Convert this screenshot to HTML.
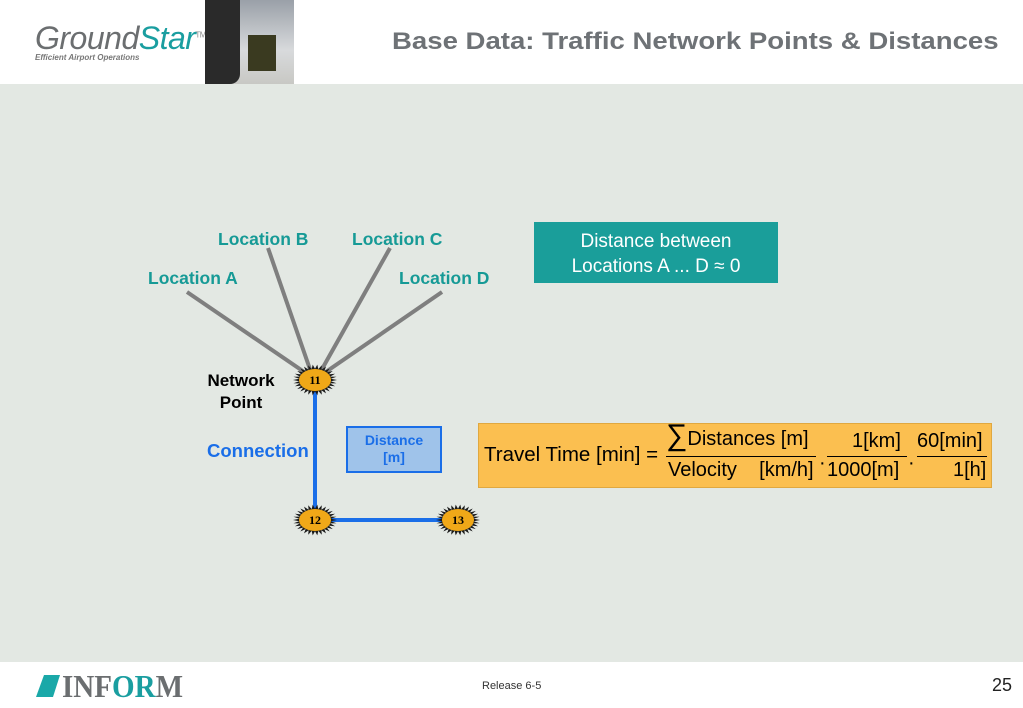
<!DOCTYPE html>
<html><head><meta charset="utf-8"><style>
body{margin:0;width:1023px;height:708px;overflow:hidden;background:#fff;font-family:"Liberation Sans",Arial,sans-serif;position:relative}
.a{position:absolute}
.loc{font-size:17.5px;font-weight:bold;color:#169a96}
</style></head><body>
<div class="a" style="left:0;top:84px;width:1023px;height:578px;background:#e3e8e3"></div>
<div class="a" style="left:35px;top:20px;font-size:32px;font-style:italic;color:#6b6e70;letter-spacing:-0.5px">Ground<span style="color:#1a9ea0">Star</span><sup style="font-size:8px;color:#888;font-style:normal">TM</sup></div>
<div class="a" style="left:35px;top:53px;font-size:8px;font-style:italic;font-weight:bold;color:#777">Efficient Airport Operations</div>
<div class="a" style="left:205px;top:0;width:89px;height:84px;background:linear-gradient(#9aa0a8,#d8dadc 60%,#c8c8c4)"></div>
<div class="a" style="left:205px;top:0;width:35px;height:84px;background:#2a2a2a;border-radius:0 0 10px 0"></div>
<div class="a" style="left:248px;top:35px;width:28px;height:36px;background:#3a3a20"></div>
<div class="a" style="left:392px;top:28px;font-size:24.5px;font-weight:bold;color:#6e7276;white-space:nowrap;transform-origin:0 0;transform:scaleX(1.125)">Base Data: Traffic Network Points &amp; Distances</div>
<svg class="a" style="left:0;top:0" width="1023" height="708">
<g stroke="#7f7f7f" stroke-width="4">
<line x1="187" y1="292" x2="313" y2="378"/><line x1="268" y1="248" x2="313" y2="378"/>
<line x1="390" y1="248" x2="317" y2="378"/><line x1="442" y1="292" x2="317" y2="378"/>
</g>
<g stroke="#1a6ee8" stroke-width="4"><line x1="315" y1="380" x2="315" y2="520"/><line x1="315" y1="520" x2="458" y2="520"/></g>
<g id="stars"></g>
<g font-family="Liberation Serif,serif" font-weight="bold" font-size="12" text-anchor="middle" fill="#000">
<text x="315" y="384">11</text><text x="315" y="524">12</text><text x="458" y="524">13</text></g>
<polygon points="44,675 60,675 53,697 36,697" fill="#1aa8a8"/>
<text x="62" y="697" font-family="Liberation Serif,serif" font-weight="bold" font-size="32" fill="#6b6e70" textLength="121" lengthAdjust="spacingAndGlyphs">INF<tspan fill="#1a9ea0">OR</tspan>M</text>
</svg>
<div class="a loc" style="left:148px;top:268px">Location A</div>
<div class="a loc" style="left:218px;top:229px">Location B</div>
<div class="a loc" style="left:352px;top:229px">Location C</div>
<div class="a loc" style="left:399px;top:268px">Location D</div>
<div class="a" style="left:193px;top:370px;width:96px;text-align:center;font-size:17px;font-weight:bold;line-height:22px">Network<br>Point</div>
<div class="a" style="left:207px;top:440px;font-size:18.5px;font-weight:bold;color:#1a6ee8">Connection</div>
<div class="a" style="left:346px;top:426px;background:#9fc3ea;border:2px solid #1a6ee8;text-align:center;font-size:14px;font-weight:bold;color:#1a6ee8;line-height:17px;padding-top:4px;box-sizing:border-box;width:96px;height:47px">Distance<br>[m]</div>
<div class="a" style="left:534px;top:222px;width:244px;height:61px;background:#1a9e9a;color:#fff;text-align:center;font-size:19px;line-height:25px;padding-top:7px;box-sizing:border-box">Distance between<br>Locations A ... D ≈ 0</div>
<div class="a" style="left:478px;top:423px;width:514px;height:65px;background:#fbbf50;border:1px solid #e0a840;box-sizing:border-box"></div>
<div class="a" style="left:484px;top:443px;font-size:20.5px">Travel Time [min] =</div>
<div class="a" style="left:666px;top:426px;font-size:20px"><span style="font-size:30px;line-height:20px">∑</span>Distances [m]</div>
<div class="a" style="left:666px;top:456px;width:150px;height:1px;background:#000"></div>
<div class="a" style="left:668px;top:459px;font-size:20px;white-space:pre">Velocity    [km/h]</div>
<div class="a" style="left:819px;top:452px;font-size:20px">·</div>
<div class="a" style="left:827px;top:456px;width:80px;height:1px;background:#000"></div>
<div class="a" style="left:852px;top:430px;font-size:20px">1[km]</div>
<div class="a" style="left:827px;top:459px;font-size:20px">1000[m]</div>
<div class="a" style="left:908px;top:452px;font-size:20px">·</div>
<div class="a" style="left:917px;top:456px;width:70px;height:1px;background:#000"></div>
<div class="a" style="left:917px;top:430px;font-size:20px">60[min]</div>
<div class="a" style="left:953px;top:459px;font-size:20px">1[h]</div>
<div class="a" style="left:482px;top:680px;font-size:11px;color:#333">Release 6-5</div>
<div class="a" style="left:992px;top:675px;font-size:18px;color:#222">25</div>
<script>
var g=document.getElementById('stars'),ns='http://www.w3.org/2000/svg';
[[315,380],[315,520],[458,520]].forEach(function(c){
var p=[],n=30;for(var i=0;i<2*n;i++){var a=Math.PI*i/n,r=i%2?0.72:1;p.push((c[0]+22*r*Math.cos(a)).toFixed(1)+','+(c[1]+15.5*r*Math.sin(a)).toFixed(1));}
var e=document.createElementNS(ns,'polygon');e.setAttribute('points',p.join(' '));e.setAttribute('fill','#1a1a1a');g.appendChild(e);
var el=document.createElementNS(ns,'ellipse');el.setAttribute('cx',c[0]);el.setAttribute('cy',c[1]);el.setAttribute('rx',16);el.setAttribute('ry',11);el.setAttribute('fill','#f0a818');g.appendChild(el);});
</script>
</body></html>
